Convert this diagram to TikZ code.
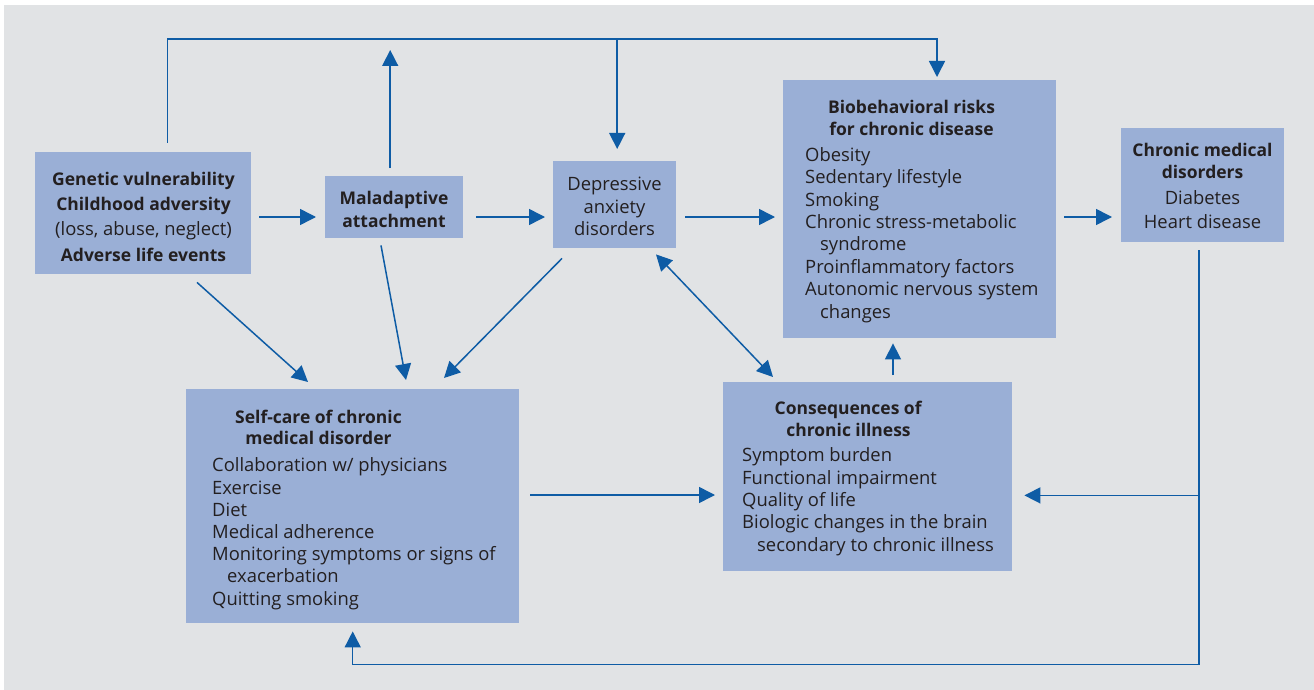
\documentclass[tikz,border=0pt]{standalone}
\usepackage{fontspec}
\setmainfont{Open Sans}[BoldFeatures={Scale=0.95}]
\usetikzlibrary{arrows.meta,calc}
\definecolor{bgc}{RGB}{225,227,229}
\definecolor{boxc}{RGB}{154,175,214}
\definecolor{arrc}{RGB}{14,92,165}
\definecolor{textc}{RGB}{35,31,32}
\begin{document}
\begin{tikzpicture}[x=1pt,y=-1pt,
  box/.style={fill=boxc, draw=none, inner sep=0pt, anchor=north west},
  txt/.style={font=\fontsize{18.4}{#1}\selectfont, text=textc, inner sep=0pt},
  ctxt/.style={txt=#1, align=center, anchor=base},
  ltxt/.style={txt=#1, align=left, anchor=base west},
  arr/.style={draw=arrc, line width=1.5pt, -{Triangle[length=16pt,width=16pt]}},
  darr/.style={draw=arrc, line width=1.5pt, {Triangle[length=16pt,width=16pt]}-{Triangle[length=16pt,width=16pt]}}]
\fill[white] (0,0) rectangle (1314,690);
\fill[bgc] (4,5) rectangle (1314,690);
\useasboundingbox (0,0) rectangle (1314,690);

% boxes
\node[box, minimum width=216pt, minimum height=122pt] (gen) at (35,152) {};
\node[box, minimum width=138pt, minimum height=62pt] (mal) at (325,176) {};
\node[box, minimum width=123pt, minimum height=87pt] (dep) at (553,161) {};
\node[box, minimum width=273pt, minimum height=258pt] (bio) at (783,80) {};
\node[box, minimum width=163pt, minimum height=114pt] (chr) at (1121,128) {};
\node[box, minimum width=333pt, minimum height=234pt] (self) at (186,389) {};
\node[box, minimum width=289pt, minimum height=189pt] (cons) at (723,382) {};

% texts (anchor = baseline of the last line)
\node[ctxt=25.3] (gentxt) at (143.5,261) {\textbf{Genetic vulnerability}\\\textbf{Childhood adversity}\\(loss, abuse, neglect)\\\textbf{Adverse life events}};
\node[ctxt=23] (maltxt) at (394,227) {\textbf{Maladaptive}\\\textbf{attachment}};
\node[ctxt=22.5] (deptxt) at (614.5,235.5) {Depressive\\anxiety\\disorders};
\node[ctxt=22.4] (biohead) at (911.5,135.5) {\textbf{Biobehavioral risks}\\\textbf{for chronic disease}};
\node[ltxt=22.4] (biolist) at (805,318) {Obesity\\Sedentary lifestyle\\Smoking\\Chronic stress-metabolic\\\hspace*{15pt}syndrome\\Proinflammatory factors\\Autonomic nervous system\\\hspace*{15pt}changes};
\node[ctxt=22] (chrhead) at (1202.5,178.5) {\textbf{Chronic medical}\\\textbf{disorders}};
\node[ctxt=24] (chritems) at (1202.5,228.5) {Diabetes\\Heart disease};
\node[ctxt=21.5] (selfhead) at (318.5,444.5) {\textbf{Self-care of chronic}\\\textbf{medical disorder}};
\node[ltxt=22.2] (selflist) at (212,605) {Collaboration w/ physicians\\Exercise\\Diet\\Medical adherence\\Monitoring symptoms or signs of\\\hspace*{15pt}exacerbation\\Quitting smoking};
\node[ctxt=22] (conshead) at (848.5,436.5) {\textbf{Consequences of}\\\textbf{chronic illness}};
\node[ltxt=22.3] (conslist) at (742,551) {Symptom burden\\Functional impairment\\Quality of life\\Biologic changes in the brain\\\hspace*{15pt}secondary to chronic illness};

% connectors
\coordinate (row) at (0,217);
\coordinate (row2) at (0,495);
\draw[arr, shorten <=8pt, shorten >=9pt] (gen.east |- row) -- (mal.west |- row);
\draw[arr, shorten <=13pt, shorten >=8pt] (mal.east |- row) -- (dep.west |- row);
\draw[arr, shorten <=9pt, shorten >=8pt] (dep.east |- row) -- (bio.west |- row);
\draw[arr, shorten <=8pt, shorten >=9pt] (bio.east |- row) -- (chr.west |- row);

\draw[arr] ($(gen.north)+(24.5,-9)$) |- ($(bio.north west)+(154,-41)$) -- ($(bio.north west)+(154,-3)$);
\draw[arr] ($(dep.north)+(2.5,-122)$) -- ($(dep.north)+(2.5,-12)$);
\draw[arr] ($(mal.north)+(-4,-8)$) -- ($(mal.north)+(-4,-126)$);

\draw[arr] ($(gen.south west)+(162,8)$) -- ($(self.north west)+(122,-7)$);
\draw[arr] ($(mal.south west)+(56,7)$) -- ($(self.north west)+(220,-9)$);
\draw[arr] ($(dep.south west)+(9,10)$) -- ($(self.north west)+(258,-11)$);
\draw[darr] ($(dep.south west)+(103,6)$) -- ($(cons.north west)+(50,-5)$);
\draw[arr] ($(cons.north west)+(170,-7)$) -- ($(bio.south west)+(110,5)$);
\draw[arr, shorten <=11pt, shorten >=8pt] (self.east |- row2) -- (cons.west |- row2);

\draw[arr] ($(chr.south)+(-3.5,8)$) |- ($(self.south)+(0,41)$) -- ($(self.south)+(0,8)$);
\coordinate (br) at ($(chr.south)+(-3.5,253)$);
\draw[arr, shorten >=12pt] (br) -- (cons.east |- br);
\end{tikzpicture}
\end{document}
